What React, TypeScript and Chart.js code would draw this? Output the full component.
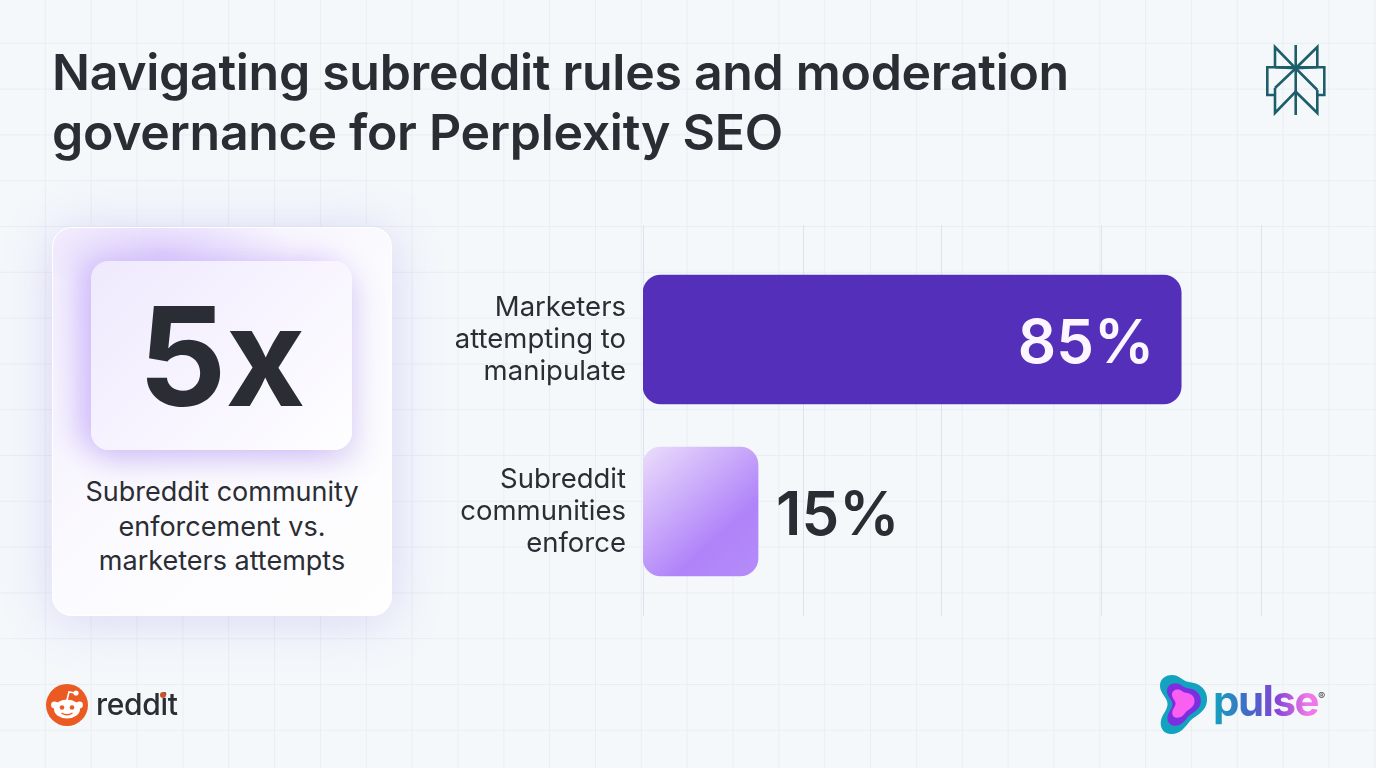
import { useEffect, useRef } from 'react'
import { Chart, registerables } from 'chart.js'

Chart.register(...registerables)

const categories = [
  ['Marketers', 'attempting to', 'manipulate'],
  ['Subreddit', 'communities', 'enforce'],
]
const shares = [85, 15]
// the reference draws the bars on a truncated axis, so it starts just below zero
const axisMin = -4.03
const axisMax = 98.2
const gridValues = [-4.03, 22.45, 45.3, 71.8, 98.2]

const titleLines = ['Navigating subreddit rules and moderation', 'governance for Perplexity SEO']
const calloutValue = '5x'
const calloutLines = ['Subreddit community', 'enforcement vs.', 'marketers attempts']

const INK = '#2A2D33'
const FONT = 'Inter, "Noto Sans", sans-serif'

const extraLines = {
  id: 'extraLines',
  beforeDatasetsDraw(chart: any) {
    const { ctx, scales } = chart
    ctx.save()
    ctx.strokeStyle = '#DDE3EA'
    ctx.lineWidth = 1
    gridValues.forEach(v => {
      const x = Math.round(scales.x.getPixelForValue(v)) + 0.5
      ctx.beginPath()
      ctx.moveTo(x, 225)
      ctx.lineTo(x, 616)
      ctx.stroke()
    })
    ctx.restore()
  },
}

const valueLabels = {
  id: 'valueLabels',
  afterDatasetsDraw(chart: any) {
    const { ctx } = chart
    const bars = chart.getDatasetMeta(0).data
    ctx.save()
    ctx.font = `600 60px ${FONT}`
    ctx.textBaseline = 'middle'
    shares.forEach((v, i) => {
      const inside = v > 50
      ctx.fillStyle = inside ? '#FBF6FF' : INK
      ctx.textAlign = inside ? 'right' : 'left'
      const x = inside ? bars[i].x - 27 : bars[i].x + 18
      ctx.fillText(`${v}%`, x, bars[i].y + 5)
    })
    ctx.restore()
  },
}

function PerplexityLogo() {
  return (
    <svg style={{ position: 'absolute', left: 1266, top: 44 }} width="62" height="72" viewBox="0 0 62 72" fill="none" stroke="#1E5E6B" strokeWidth="2.6">
      <path d="M29.7 1V71" />
      <path d="M9 23V3L29.7 24.3L51.3 3V23" />
      <path d="M9 51H1.3V23.3H58.3V51H51.3" />
      <path d="M9 23.3L29.7 24.3L51.3 46" />
      <path d="M51.3 23.3L29.7 24.3L9 44" />
      <path d="M9 44V69L29.7 47.7L51.3 69V46" />
    </svg>
  )
}

function RedditLogo() {
  return (
    <svg style={{ position: 'absolute', left: 46, top: 684 }} width="42" height="42" viewBox="0 0 42 42">
      <circle cx="21" cy="21" r="21" fill="#EC5A24" />
      <ellipse cx="21" cy="25" rx="13" ry="9.5" fill="#fff" />
      <circle cx="8.5" cy="21" r="3.4" fill="#fff" />
      <circle cx="33.5" cy="21" r="3.4" fill="#fff" />
      <path d="M21 16L23 8L29 9" stroke="#fff" strokeWidth="1.6" fill="none" />
      <circle cx="30" cy="9" r="2.6" fill="#fff" />
      <circle cx="16" cy="23.5" r="2.3" fill="#EC5A24" />
      <circle cx="26" cy="23.5" r="2.3" fill="#EC5A24" />
      <path d="M15.5 29Q21 32.5 26.5 29" stroke="#EC5A24" strokeWidth="1.4" fill="none" />
    </svg>
  )
}

const BLOB = 'M14 1C22 1 24 7 31 8C42 9 50 16 49 27C48 38 38 41 32 47C27 53 22 61 12 60C3 59 1 50 4 43C7 37 11 33 9 27C7 22 2 18 2 12C2 5 7 1 14 1Z'

function PulseLogo() {
  return (
    <>
      <svg style={{ position: 'absolute', left: 1158, top: 674 }} width="54" height="62" viewBox="0 0 54 62">
        <path d={BLOB} fill="#14A3BE" />
        <path d={BLOB} fill="#7B2FE0" transform="translate(7.5 8.5) scale(0.72)" />
        <path d={BLOB} fill="#FB5FF2" transform="translate(13 15) scale(0.48)" />
      </svg>
      <div
        style={{
          position: 'absolute', left: 1213, top: 675, fontFamily: FONT, fontSize: 42, fontWeight: 700, letterSpacing: -1.5,
          background: 'linear-gradient(90deg, #14A3BE 0%, #4A62C8 38%, #8B45D8 62%, #EE78E8 90%)',
          WebkitBackgroundClip: 'text', backgroundClip: 'text', color: 'transparent',
        }}
      >
        pulse
      </div>
      <div style={{ position: 'absolute', left: 1318, top: 689, fontFamily: FONT, fontSize: 11, fontWeight: 700, color: '#555' }}>®</div>
    </>
  )
}

export default function App() {
  const chartRef = useRef<HTMLCanvasElement>(null)

  useEffect(() => {
    if (!chartRef.current) return
    const chart = new Chart(chartRef.current, {
      type: 'bar',
      data: {
        labels: categories,
        datasets: [
          {
            data: shares,
            base: axisMin,
            barThickness: 129,
            borderRadius: 18,
            borderSkipped: false,
            backgroundColor: (c: any) => {
              if (c.dataIndex === 0) return '#5430BA'
              const { x, y } = c.chart.scales
              if (!x || !y) return '#B085F8'
              const left = x.getPixelForValue(axisMin)
              const right = x.getPixelForValue(shares[1])
              const mid = y.getPixelForValue(1)
              const g = c.chart.ctx.createLinearGradient(left, mid - 64, right, mid + 64)
              g.addColorStop(0, '#EBDDFB')
              g.addColorStop(0.68, '#B083F9')
              g.addColorStop(1, '#B48CF8')
              return g
            },
          },
        ],
      },
      options: {
        indexAxis: 'y',
        responsive: false,
        animation: false,
        devicePixelRatio: 1,
        layout: { padding: { top: 253.5, bottom: 170.5, right: 115, left: 0 } },
        plugins: { legend: { display: false }, tooltip: { enabled: false } },
        scales: {
          x: { min: axisMin, max: axisMax, display: false },
          y: {
            grid: { display: false },
            border: { display: false },
            afterFit: (scale: any) => { scale.width = 643 },
            ticks: {
              padding: 9,
              color: INK,
              font: { family: FONT, size: 27.5, lineHeight: 1.165 },
            },
          },
        },
      },
      plugins: [extraLines, valueLabels],
    } as any)
    return () => chart.destroy()
  }, [])

  return (
    <div
      style={{
        position: 'relative', width: 1376, height: 768, overflow: 'hidden', backgroundColor: '#F4F8FB',
        backgroundImage: 'linear-gradient(#E9EEF3 1px, transparent 1px), linear-gradient(90deg, #E9EEF3 1px, transparent 1px)',
        backgroundSize: '45.85px 45.8px', backgroundPosition: '-1px -3px',
      }}
    >
      <style>{'body{margin:0}'}</style>
      <div style={{ position: 'absolute', left: 52, top: 42, fontFamily: FONT, fontSize: 50, fontWeight: 600, lineHeight: '60px', letterSpacing: -0.3, color: INK, whiteSpace: 'nowrap' }}>
        {titleLines.map(t => <div key={t}>{t}</div>)}
      </div>
      <PerplexityLogo />

      <div
        style={{
          position: 'absolute', left: 52, top: 227, width: 340, height: 389, borderRadius: 20, boxSizing: 'border-box',
          border: '1px solid rgba(255,255,255,0.9)',
          background: 'radial-gradient(ellipse 130px 48px at 110px 24px, rgba(170,130,250,0.26), transparent), linear-gradient(135deg, #F3EEFD 0%, #FBFAFE 50%, #FEFEFE 100%)',
          boxShadow: '0 4px 50px rgba(140,120,225,0.26)',
        }}
      >
        <div
          style={{
            position: 'absolute', left: 38, top: 33, width: 261, height: 189, borderRadius: 18,
            background: 'linear-gradient(135deg, #EFE9FD 0%, #F8F5FF 55%, #FEFEFF 100%)',
            boxShadow: '-14px 0 30px rgba(165,125,250,0.42), 8px 14px 28px rgba(125,100,220,0.18)',
            display: 'flex', alignItems: 'center', justifyContent: 'center',
            fontFamily: FONT, fontSize: 138, fontWeight: 700, color: INK, letterSpacing: -1,
          }}
        >
          {calloutValue}
        </div>
        <div style={{ position: 'absolute', left: -1, top: 247, width: 340, textAlign: 'center', fontFamily: FONT, fontSize: 27, lineHeight: '34.5px', color: INK }}>
          {calloutLines.map(t => <div key={t}>{t}</div>)}
        </div>
      </div>

      <canvas ref={chartRef} width={1376} height={768} style={{ position: 'absolute', left: 0, top: 0 }} />

      <RedditLogo />
      <div style={{ position: 'absolute', left: 96, top: 686, fontFamily: FONT, fontSize: 30, fontWeight: 500, letterSpacing: -0.3, color: INK }}>reddit</div>
      <div style={{ position: 'absolute', left: 160, top: 692, width: 6, height: 6, borderRadius: 3, background: '#C8552A' }} />
      <PulseLogo />
    </div>
  )
}
